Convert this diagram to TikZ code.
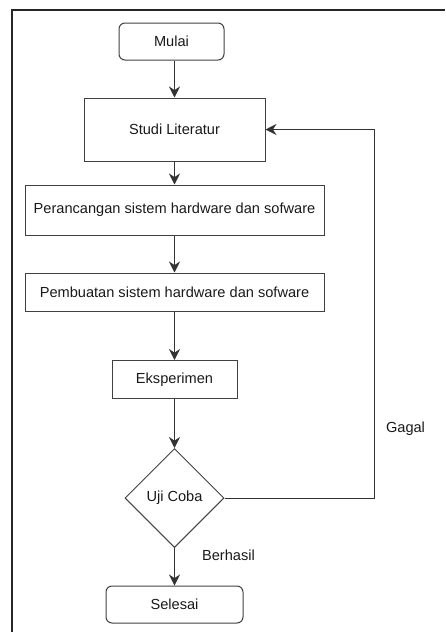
\documentclass[tikz,border=0pt]{standalone}
\usepackage{fontspec}
\setmainfont{Liberation Sans}
\usetikzlibrary{arrows.meta,shapes.geometric}
\begin{document}
\begin{tikzpicture}[x=1pt,y=-1pt,
  every node/.style={font=\fontsize{14.6}{16}\selectfont, text=black!90},
  box/.style={draw=black!75, line width=1pt, minimum width=#1, inner sep=0pt},
  term/.style={box=#1, rounded corners=6pt},
  dec/.style={diamond, draw=black!75, line width=1pt, minimum width=99pt, minimum height=99pt, inner sep=0pt, aspect=1},
  conn/.style={draw=black!80, line width=1pt, -{Stealth[width=11pt,length=11pt]}},
  lbl/.style={inner sep=0pt}]
\useasboundingbox (0,0) rectangle (445,632);
\draw[line width=2pt, black!85] (11.5,632) coordinate (fb) -- (11.5,9.5) coordinate (fc) -- (445,9.5) coordinate (fr);
\node[term=105pt, minimum height=37pt] (mulai) at (171.5,41.5) {Mulai};
\node[box=181pt, minimum height=63pt] (studi) at (174.5,129.5) {Studi Literatur};
\node[box=299pt, minimum height=50pt] (peran) at (174.5,210) {Perancangan sistem hardware dan sofware};
\node[box=299pt, minimum height=38pt] (pemb) at (174.5,292) {Pembuatan sistem hardware dan sofware};
\node[box=125pt, minimum height=38pt] (eks) at (174.5,379.5) {Eksperimen};
\node[dec] (uji) at (174.5,498) {Uji Coba};
\node[term=137pt, minimum height=37pt] (sel) at (174.5,604.5) {Selesai};
\coordinate (cr) at (374,498);
\coordinate (cu) at (374,129.5);
\draw[conn] (studi.north |- mulai.south) -- (studi.north);
\draw[conn] (studi) -- (peran);
\draw[conn] (peran) -- (pemb);
\draw[conn] (pemb) -- (eks);
\draw[conn] (eks) -- (uji);
\draw[conn] (uji) -- (sel);
\draw[conn] (uji.east) -- (cr) -- (cu) -- (studi.east);
\node[lbl] (gagal) at (405.5,429) {Gagal};
\node[lbl] (berhasil) at (228.5,555) {Berhasil};
\end{tikzpicture}
\end{document}
